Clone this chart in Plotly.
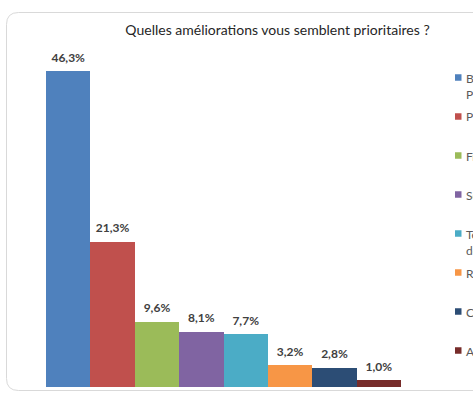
import plotly.graph_objects as go

categories = [
    "Baisse des tarifs et<br>Promotions",
    "Propreté",
    "Fréquence",
    "Sécurité",
    "Temps d'attente et<br>desserte",
    "Rapidité",
    "Confort",
    "Autres",
]
values = [46.3, 21.3, 9.6, 8.1, 7.7, 3.2, 2.8, 1.0]
colors = ["#4F81BD", "#C0504D", "#9BBB59", "#8064A2",
          "#4BACC6", "#F79646", "#2C4D75", "#772C2A"]
title_text = "Quelles améliorations vous semblent prioritaires ?"

W, H = 473, 398
L, R, T, B = 46, 72, 46, 11
PW, PH = W - L - R, H - T - B


def px(x):
    return (x - L) / PW


def py(y):
    return (H - B - y) / PH


xs = list(range(len(values)))
fig = go.Figure()
fig.add_trace(go.Bar(
    x=xs,
    y=values,
    marker=dict(color=colors, line=dict(width=0)),
    showlegend=False,
    hoverinfo="skip",
))
fig.add_trace(go.Scatter(
    x=xs,
    y=values,
    mode="markers+text",
    marker=dict(size=9, opacity=0),
    texttemplate="%{y:.1f}%",
    textposition="top center",
    textfont=dict(family="Lato", size=12, color="#404040", weight="bold"),
    cliponaxis=False,
    showlegend=False,
    hoverinfo="skip",
))

# chart border (rounded rectangle, cut at the right edge)
x_l, y_t, y_b, r = 6.5, 12.5, 390.5, 12
path = (f"M {px(620)},{py(y_t)} L {px(x_l + r)},{py(y_t)} "
        f"Q {px(x_l)},{py(y_t)} {px(x_l)},{py(y_t + r)} "
        f"L {px(x_l)},{py(y_b - r)} "
        f"Q {px(x_l)},{py(y_b)} {px(x_l + r)},{py(y_b)} "
        f"L {px(620)},{py(y_b)}")
shapes = [dict(type="path", xref="paper", yref="paper", path=path,
               line=dict(color="#D9D9D9", width=1), layer="below")]
annotations = []
for i, (cat, col) in enumerate(zip(categories, colors)):
    cy = 77.5 + 39 * i
    shapes.append(dict(type="rect", xref="paper", yref="paper",
                       xsizemode="pixel", ysizemode="pixel",
                       xanchor=px(458), yanchor=py(cy),
                       x0=-3, x1=3.5, y0=-3.25, y1=3.25,
                       fillcolor=col, line=dict(width=0)))
    annotations.append(dict(xref="paper", yref="paper", x=px(463.5), y=py(cy - 9),
                            xanchor="left", yanchor="top", align="left",
                            text=cat, showarrow=False,
                            font=dict(family="Lato", size=12, color="#595959")))

fig.update_layout(
    width=W, height=H,
    margin=dict(l=L, r=R, t=T, b=B, autoexpand=False),
    paper_bgcolor="white", plot_bgcolor="white",
    separators=", ",
    bargap=0,
    title=dict(text=title_text, x=277.5 / W, xanchor="center",
               y=1 - 30 / H, yanchor="middle",
               font=dict(family="Lato", size=14, color="#262626")),
    xaxis=dict(range=[-0.5, len(values) - 0.5], visible=False, fixedrange=True),
    yaxis=dict(range=[0, 50], visible=False, fixedrange=True),
    shapes=shapes,
    annotations=annotations,
)

fig.write_html("out.html",
               config={"displayModeBar": False, "staticPlot": True},
               post_script="document.body.style.margin='0px';"
                           "document.body.style.overflow='hidden';")
